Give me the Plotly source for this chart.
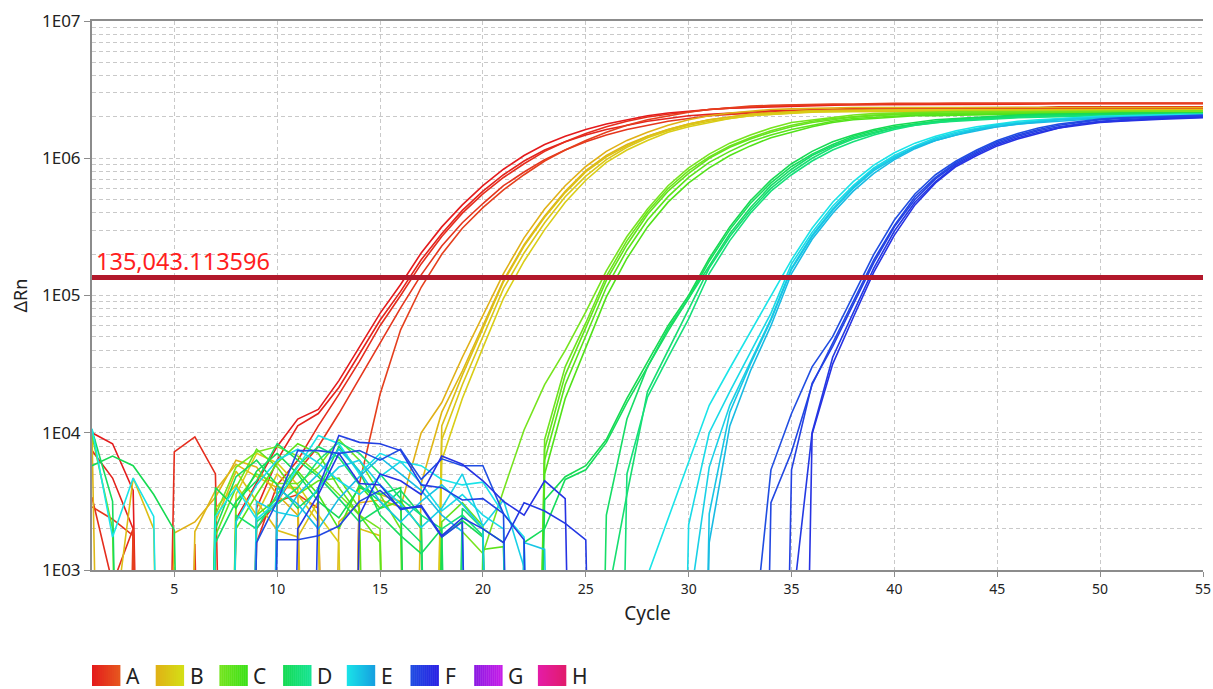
import math
import plotly.graph_objects as go

N = None  # reading at or below zero: off the bottom of the log axis

CYCLES = list(range(1, 56))
THRESHOLD = 135043.113596
THRESHOLD_LABEL = "135,043.113596"
X_TICK_VALUES = [5, 10, 15, 20, 25, 30, 35, 40, 45, 50, 55]
Y_TICK_VALUES = [1e3, 1e4, 1e5, 1e6, 1e7]
Y_TICK_LABELS = ["1E03", "1E04", "1E05", "1E06", "1E07"]
GROUPS = ["A", "B", "C", "D", "E", "F", "G", "H"]

# log10(delta Rn) per well, cycles 1..55
A1 = [4.00, 3.92, 3.58, N, N, N, N, 3.37, 3.64, 3.90,
      4.10, 4.17, 4.38, 4.62, 4.87, 5.08, 5.31, 5.50, 5.66, 5.80,
      5.92, 6.02, 6.10, 6.16, 6.21, 6.25, 6.28, 6.31, 6.33, 6.345,
      6.355, 6.365, 6.37, 6.375, 6.38, 6.385, 6.385, 6.39, 6.39, 6.39,
      6.39, 6.39, 6.395, 6.395, 6.395, 6.395, 6.395, 6.40, 6.40, 6.40,
      6.40, 6.40, 6.40, 6.40, 6.40]
A2 = [3.87, 3.67, 3.30, N, N, N, N, N, 3.45, 3.80,
      4.05, 4.14, 4.33, 4.57, 4.82, 5.03, 5.26, 5.45, 5.62, 5.76,
      5.88, 5.98, 6.06, 6.12, 6.17, 6.21, 6.24, 6.27, 6.29, 6.31,
      6.32, 6.33, 6.34, 6.345, 6.35, 6.355, 6.36, 6.36, 6.365, 6.365,
      6.365, 6.37, 6.37, 6.37, 6.37, 6.37, 6.37, 6.375, 6.375, 6.375,
      6.375, 6.375, 6.375, 6.375, 6.375]
A3 = [3.53, 2.90, 3.30, N, 3.86, 3.97, 3.70, N, 3.20, 3.62,
      3.80, 4.05, 4.28, 4.52, 4.78, 5.00, 5.23, 5.43, 5.60, 5.74,
      5.86, 5.96, 6.05, 6.12, 6.18, 6.23, 6.27, 6.30, 6.32, 6.34,
      6.355, 6.365, 6.375, 6.38, 6.385, 6.39, 6.39, 6.39, 6.395, 6.395,
      6.395, 6.40, 6.40, 6.40, 6.40, 6.40, 6.40, 6.40, 6.40, 6.40,
      6.40, 6.40, 6.40, 6.40, 6.40]
A4 = [3.46, 3.37, 3.25, N, N, 3.19, N, N, 3.30, 3.50,
      3.72, 3.90, 4.14, 4.40, 4.66, 4.91, 5.15, 5.36, 5.53, 5.67,
      5.80, 5.90, 5.99, 6.06, 6.12, 6.17, 6.21, 6.24, 6.27, 6.29,
      6.31, 6.32, 6.33, 6.34, 6.345, 6.35, 6.355, 6.36, 6.36, 6.36,
      6.365, 6.365, 6.365, 6.365, 6.365, 6.365, 6.365, 6.365, 6.365, 6.365,
      6.365, 6.365, 6.365, 6.365, 6.365]
A5 = [N, N, 3.30, N, N, N, N, N, N, 3.50,
      3.55, 3.45, N, 3.63, 4.28, 4.75, 5.06, 5.30, 5.49, 5.64,
      5.77, 5.88, 5.98, 6.06, 6.13, 6.19, 6.24, 6.28, 6.31, 6.335,
      6.355, 6.37, 6.38, 6.385, 6.39, 6.39, 6.395, 6.395, 6.40, 6.40,
      6.40, 6.40, 6.40, 6.40, 6.40, 6.40, 6.40, 6.40, 6.40, 6.40,
      6.40, 6.40, 6.40, 6.40, 6.40]

B1 = [N, N, N, N, 3.27, 3.35, 3.53, 3.80, 3.75, 3.55,
      3.40, N, 3.35, 3.49, 3.51, 3.46, 4.00, 4.22, 4.55, 4.86,
      5.16, 5.42, 5.63, 5.80, 5.94, 6.05, 6.13, 6.19, 6.24, 6.28,
      6.31, 6.33, 6.345, 6.355, 6.36, 6.365, 6.365, 6.37, 6.37, 6.37,
      6.37, 6.37, 6.37, 6.37, 6.37, 6.37, 6.37, 6.37, 6.37, 6.37,
      6.37, 6.37, 6.37, 6.37, 6.37]
B2 = [4.00, N, N, N, N, 3.28, 3.58, 3.77, 3.68, 3.60,
      3.60, N, N, N, N, N, 3.63, 4.15, 4.45, 4.78,
      5.11, 5.37, 5.58, 5.76, 5.91, 6.02, 6.10, 6.16, 6.21, 6.25,
      6.28, 6.30, 6.32, 6.33, 6.34, 6.345, 6.35, 6.35, 6.355, 6.355,
      6.355, 6.355, 6.355, 6.355, 6.355, 6.355, 6.355, 6.355, 6.355, 6.355,
      6.355, 6.355, 6.355, 6.355, 6.355]
B3 = [N, 2.50, 3.67, 3.30, N, N, 3.35, 3.72, 3.50, 3.29,
      3.24, 3.50, N, 3.30, 3.25, N, N, 4.05, 4.42, 4.76,
      5.10, 5.36, 5.57, 5.75, 5.90, 6.01, 6.09, 6.16, 6.21, 6.25,
      6.28, 6.30, 6.32, 6.33, 6.34, 6.345, 6.345, 6.35, 6.35, 6.35,
      6.35, 6.35, 6.35, 6.35, 6.35, 6.35, 6.35, 6.35, 6.35, 6.35,
      6.35, 6.35, 6.35, 6.35, 6.35]
B4 = [N, N, N, N, N, N, 3.45, 3.62, 3.40, 3.70,
      3.55, 3.35, N, 3.60, 3.55, 3.50, N, 3.95, 4.35, 4.70,
      5.05, 5.31, 5.53, 5.72, 5.87, 5.99, 6.08, 6.15, 6.20, 6.24,
      6.27, 6.29, 6.31, 6.32, 6.33, 6.335, 6.34, 6.34, 6.345, 6.345,
      6.345, 6.345, 6.345, 6.345, 6.345, 6.345, 6.345, 6.345, 6.345, 6.345,
      6.345, 6.345, 6.345, 6.345, 6.345]
B5 = [N, N, N, N, N, N, N, 3.55, 3.85, 3.78,
      3.62, 3.40, 3.20, N, N, N, N, 3.80, 4.25, 4.62,
      4.98, 5.25, 5.48, 5.68, 5.84, 5.97, 6.06, 6.13, 6.19, 6.23,
      6.26, 6.29, 6.31, 6.32, 6.33, 6.34, 6.34, 6.345, 6.345, 6.35,
      6.35, 6.35, 6.35, 6.35, 6.35, 6.35, 6.35, 6.35, 6.35, 6.35,
      6.35, 6.35, 6.35, 6.35, 6.35]

C1 = [N, N, N, N, N, N, 3.40, 3.75, 3.86, 3.90,
      3.83, 3.70, 3.55, 3.40, 3.30, N, N, N, 3.28, 3.12,
      3.58, 4.02, 4.35, 4.60, 4.88, 5.18, 5.43, 5.63, 5.80, 5.93,
      6.03, 6.11, 6.17, 6.22, 6.26, 6.28, 6.30, 6.315, 6.325, 6.33,
      6.335, 6.335, 6.34, 6.34, 6.34, 6.34, 6.345, 6.345, 6.345, 6.345,
      6.345, 6.345, 6.345, 6.345, 6.345]
C2 = [3.98, 3.30, N, N, N, N, N, 3.50, 3.70, 3.63,
      3.63, 3.75, 3.95, 3.80, 3.55, 3.30, N, N, N, N,
      N, N, 3.95, 4.48, 4.80, 5.14, 5.40, 5.61, 5.78, 5.91,
      6.01, 6.09, 6.15, 6.20, 6.24, 6.27, 6.29, 6.305, 6.315, 6.32,
      6.325, 6.325, 6.33, 6.33, 6.33, 6.335, 6.335, 6.335, 6.335, 6.335,
      6.335, 6.335, 6.335, 6.335, 6.335]
C3 = [N, N, N, N, N, N, 3.25, 3.60, 3.88, 3.75,
      3.55, 3.65, 3.67, 3.45, N, N, N, 3.35, 3.49, 3.32,
      N, N, 3.88, 4.42, 4.76, 5.11, 5.37, 5.59, 5.76, 5.89,
      6.00, 6.08, 6.14, 6.19, 6.23, 6.26, 6.28, 6.30, 6.31, 6.32,
      6.325, 6.325, 6.33, 6.33, 6.33, 6.33, 6.33, 6.33, 6.33, 6.33,
      6.33, 6.33, 6.33, 6.33, 6.33]
C4 = [N, N, N, N, N, N, N, 3.30, 3.55, 3.78,
      3.92, 3.85, 3.60, 3.40, 3.20, N, N, N, N, 3.15,
      3.17, N, 3.80, 4.35, 4.70, 5.06, 5.33, 5.55, 5.72, 5.86,
      5.97, 6.05, 6.12, 6.17, 6.21, 6.24, 6.27, 6.29, 6.30, 6.31,
      6.315, 6.32, 6.32, 6.32, 6.325, 6.325, 6.325, 6.325, 6.325, 6.325,
      6.325, 6.325, 6.325, 6.325, 6.325]
C5 = [N, N, N, N, N, N, N, N, 3.40, 3.52,
      3.72, 3.55, 3.30, 3.62, 3.45, 3.50, 3.30, N, N, N,
      N, N, 3.70, 4.25, 4.62, 4.99, 5.27, 5.50, 5.68, 5.82,
      5.93, 6.02, 6.09, 6.15, 6.19, 6.23, 6.26, 6.28, 6.29, 6.30,
      6.31, 6.31, 6.315, 6.315, 6.32, 6.32, 6.32, 6.32, 6.32, 6.32,
      6.32, 6.32, 6.32, 6.32, 6.32]

D1 = [3.76, 3.83, 3.76, 3.55, 3.29, N, 3.60, 3.45, 3.72, 3.85,
      3.70, 3.50, 3.38, 3.60, 3.55, 3.60, N, 3.24, 3.36, 3.24,
      N, N, 3.51, 3.68, 3.76, 3.95, 4.25, 4.52, 4.78, 5.00,
      5.27, 5.50, 5.69, 5.84, 5.96, 6.05, 6.12, 6.17, 6.21, 6.24,
      6.26, 6.28, 6.29, 6.30, 6.31, 6.315, 6.32, 6.32, 6.325, 6.325,
      6.33, 6.33, 6.33, 6.33, 6.33]
D2 = [4.02, 3.50, N, N, N, N, 3.30, 3.68, 3.80, 3.62,
      3.45, 3.58, 3.90, 3.72, 3.40, 3.25, 3.12, 3.30, N, N,
      N, 3.20, 3.30, 3.66, 3.73, 3.93, 4.22, 4.48, 4.74, 4.98,
      5.25, 5.48, 5.67, 5.82, 5.94, 6.03, 6.10, 6.16, 6.20, 6.23,
      6.25, 6.27, 6.285, 6.295, 6.305, 6.31, 6.315, 6.32, 6.32, 6.32,
      6.325, 6.325, 6.325, 6.325, 6.325]
D3 = [N, N, N, N, N, N, 3.20, 3.50, 3.65, 3.92,
      3.80, 3.68, 3.52, 3.35, 3.45, 3.58, 3.40, N, N, N,
      N, N, N, N, N, 3.40, 4.10, 4.48, 4.76, 4.98,
      5.22, 5.45, 5.64, 5.80, 5.92, 6.02, 6.09, 6.15, 6.19, 6.22,
      6.25, 6.27, 6.28, 6.29, 6.30, 6.305, 6.31, 6.31, 6.315, 6.315,
      6.315, 6.32, 6.32, 6.32, 6.32]
D4 = [N, N, N, N, N, N, N, 3.40, 3.30, 3.55,
      3.76, 3.90, 3.82, 3.62, 3.50, 3.35, 3.20, N, 3.45, 3.30,
      3.20, N, N, N, N, 2.75, 3.55, 4.30, 4.60, 4.90,
      5.20, 5.43, 5.62, 5.78, 5.90, 6.00, 6.08, 6.14, 6.18, 6.22,
      6.24, 6.26, 6.275, 6.285, 6.295, 6.30, 6.305, 6.31, 6.31, 6.31,
      6.315, 6.315, 6.315, 6.315, 6.315]
D5 = [N, N, N, N, N, N, N, N, 3.35, 3.48,
      3.60, 3.80, 3.93, 3.85, 3.70, 3.52, 3.40, 3.30, 3.40, 3.25,
      N, N, N, N, N, N, 3.70, 4.26, 4.55, 4.83,
      5.16, 5.40, 5.60, 5.76, 5.88, 5.98, 6.06, 6.12, 6.17, 6.21,
      6.24, 6.26, 6.27, 6.28, 6.29, 6.295, 6.30, 6.305, 6.31, 6.31,
      6.31, 6.31, 6.31, 6.31, 6.31]

E1 = [4.03, 3.24, 3.67, 3.39, N, N, 3.39, 3.60, 3.37, 3.50,
      3.75, 3.98, 3.92, 3.70, 3.85, 3.79, 3.76, 3.66, 3.62, 3.64,
      3.41, 3.24, N, N, N, N, N, 2.96, 3.37, 3.78,
      4.20, 4.47, 4.73, 5.00, 5.26, 5.49, 5.68, 5.83, 5.95, 6.04,
      6.11, 6.16, 6.20, 6.23, 6.25, 6.27, 6.28, 6.29, 6.30, 6.305,
      6.31, 6.315, 6.315, 6.32, 6.32]
E2 = [N, N, N, N, N, N, N, 3.35, 3.62, 3.80,
      3.88, 3.78, 3.65, 3.55, 3.68, 3.79, 3.63, 3.43, 3.55, 3.40,
      3.30, N, N, N, N, N, N, N, N, 3.33,
      4.00, 4.30, 4.58, 4.87, 5.23, 5.46, 5.65, 5.80, 5.93, 6.02,
      6.09, 6.15, 6.19, 6.22, 6.245, 6.26, 6.275, 6.285, 6.295, 6.30,
      6.305, 6.305, 6.31, 6.31, 6.31]
E3 = [N, N, N, N, N, N, N, N, 3.50, 3.42,
      3.39, 3.60, 3.75, 3.80, 3.62, 3.48, 3.31, 3.45, 3.70, 3.32,
      3.51, 3.02, N, N, N, N, N, N, N, 2.70,
      3.75, 4.20, 4.52, 4.83, 5.20, 5.44, 5.63, 5.79, 5.92, 6.01,
      6.08, 6.14, 6.18, 6.21, 6.24, 6.255, 6.27, 6.28, 6.29, 6.30,
      6.30, 6.305, 6.305, 6.31, 6.31]
E4 = [N, N, N, N, N, N, N, N, N, 3.30,
      3.55, 3.70, 3.88, 3.72, 3.50, 3.35, 3.50, 3.62, 3.48, 3.30,
      N, 3.20, 3.15, N, N, N, N, N, N, N,
      3.41, 4.15, 4.50, 4.82, 5.19, 5.43, 5.62, 5.78, 5.91, 6.00,
      6.08, 6.13, 6.17, 6.21, 6.23, 6.25, 6.265, 6.28, 6.29, 6.295,
      6.30, 6.30, 6.305, 6.305, 6.31]
E5 = [N, N, N, N, N, N, N, N, N, 3.60,
      3.48, 3.30, 3.52, 3.68, 3.82, 3.70, 3.58, 3.40, 3.28, N,
      N, N, N, N, N, N, N, N, N, N,
      3.20, 4.05, 4.45, 4.78, 5.16, 5.41, 5.60, 5.76, 5.89, 5.99,
      6.07, 6.13, 6.17, 6.20, 6.23, 6.25, 6.26, 6.275, 6.285, 6.29,
      6.295, 6.30, 6.30, 6.305, 6.305]

F1 = [N, N, N, N, N, N, N, N, 3.20, 3.50,
      3.87, 3.87, 3.85, 3.87, 3.80, 3.88, 3.66, 3.81, 3.76, 3.76,
      3.41, N, N, N, N, N, N, N, N, N,
      N, N, 2.27, 3.73, 4.14, 4.48, 4.70, 5.00, 5.30, 5.55,
      5.74, 5.88, 5.98, 6.06, 6.13, 6.18, 6.22, 6.25, 6.27, 6.285,
      6.295, 6.30, 6.305, 6.31, 6.315]
F2 = [N, N, N, N, N, N, N, N, N, 3.22,
      3.22, 3.25, 3.32, 3.50, 3.58, 3.45, 3.46, 3.24, 3.35, N,
      N, N, N, N, N, N, N, N, N, N,
      N, N, N, 3.49, 3.86, 4.35, 4.65, 4.95, 5.26, 5.51,
      5.72, 5.86, 5.97, 6.05, 6.12, 6.17, 6.21, 6.24, 6.26, 6.28,
      6.29, 6.295, 6.30, 6.305, 6.31]
F3 = [N, N, N, N, N, N, N, N, N, N,
      N, 3.60, 3.98, 3.93, 3.92, 3.87, 3.62, 3.60, 3.51, 3.52,
      3.41, 3.22, N, N, N, N, N, N, N, N,
      N, N, N, N, 3.73, 4.36, 4.63, 4.93, 5.24, 5.50,
      5.70, 5.85, 5.96, 6.04, 6.11, 6.16, 6.20, 6.23, 6.25, 6.27,
      6.28, 6.29, 6.295, 6.30, 6.305]
F4 = [N, N, N, N, N, N, N, N, N, N,
      3.30, 3.55, 3.85, 3.63, 3.62, 3.44, 3.47, 3.25, 3.38, 3.30,
      3.20, 3.49, 3.43, 3.34, 3.22, N, N, N, N, N,
      N, N, N, N, 2.67, 4.00, 4.55, 4.88, 5.20, 5.47,
      5.68, 5.83, 5.95, 6.03, 6.10, 6.15, 6.19, 6.22, 6.25, 6.265,
      6.275, 6.285, 6.29, 6.295, 6.30]
F5 = [N, N, N, N, N, N, N, N, N, N,
      N, N, N, 3.40, 3.70, 3.65, 3.55, 3.83, 3.77, 3.65,
      3.50, 3.40, 3.65, 3.52, N, N, N, N, N, N,
      N, N, N, N, N, 3.99, 4.50, 4.84, 5.17, 5.44,
      5.66, 5.82, 5.94, 6.02, 6.09, 6.14, 6.18, 6.22, 6.24, 6.26,
      6.27, 6.28, 6.285, 6.29, 6.295]

WELLS = {
    "A": [A1, A2, A3, A4, A5],
    "B": [B1, B2, B3, B4, B5],
    "C": [C1, C2, C3, C4, C5],
    "D": [D1, D2, D3, D4, D5],
    "E": [E1, E2, E3, E4, E5],
    "F": [F1, F2, F3, F4, F5],
    "G": [],
    "H": [],
}

# ---- styling ----
GROUP_COLORS = {  # legend gradient endpoints (left, right)
    "A": ((228, 26, 28), (230, 88, 30)),
    "B": ((224, 176, 22), (212, 224, 22)),
    "C": ((118, 228, 30), (58, 225, 22)),
    "D": ((22, 218, 82), (22, 228, 148)),
    "E": ((26, 228, 232), (22, 160, 224)),
    "F": ((32, 78, 226), (42, 32, 228)),
    "G": ((138, 26, 226), (200, 30, 232)),
    "H": ((228, 28, 168), (226, 28, 108)),
}
BELOW_AXIS = 1e-4  # where non-positive readings are drawn (below the axis floor)
FONT = "Noto Sans"
TEXT = "#222222"
AXIS = "#8c8c8c"
GRID = "#c9c9c9"
DASH = "4px,3px"

PLOT_L, PLOT_R, PLOT_T, PLOT_B = 92, 1203, 21, 570
W, H = 1213, 689


def mix(c1, c2, t):
    return "rgb(%d,%d,%d)" % tuple(round(a + (b - a) * t) for a, b in zip(c1, c2))


fig = go.Figure()

for g in GROUPS:
    wells = WELLS[g]
    c_left, c_right = GROUP_COLORS[g]
    for i, w in enumerate(wells):
        if len(w) != len(CYCLES):
            raise ValueError(f"{g}{i+1} has {len(w)} values")
        t = 0.6 * i / max(1, len(wells) - 1)
        y = [10 ** v if v is not None else BELOW_AXIS for v in w]
        fig.add_trace(go.Scatter(
            x=CYCLES, y=y, mode="lines", name=f"{g}{i+1}",
            line=dict(color=mix(c_left, c_right, t), width=1.6),
            showlegend=False, hoverinfo="skip"))

# threshold line
fig.add_trace(go.Scatter(
    x=[CYCLES[0], CYCLES[-1]], y=[THRESHOLD, THRESHOLD], mode="lines",
    line=dict(color="#b2182b", width=5), showlegend=False, hoverinfo="skip"))

fig.add_annotation(
    x=0, xref="paper", y=math.log10(THRESHOLD), yref="y",
    text=THRESHOLD_LABEL, showarrow=False, xanchor="left", yanchor="bottom",
    xshift=2, yshift=-1, font=dict(family=FONT, size=23.5, color="#ff1e1e"))

# legend: gradient squares + labels below the plot
pw, ph = PLOT_R - PLOT_L, PLOT_B - PLOT_T


def px_x(px):
    return (px - PLOT_L) / pw


def px_y(py):
    return (PLOT_B - py) / ph


shapes = []
SQ_W, SQ_TOP, SQ_BOT, STEP, STRIPS = 28, 665, 686, 63.7, 14
for k, g in enumerate(GROUPS):
    x0 = 92 + STEP * k
    c_left, c_right = GROUP_COLORS[g]
    for s in range(STRIPS):
        xa = x0 + SQ_W * s / STRIPS
        xb = x0 + SQ_W * (s + 1) / STRIPS + 0.4
        col = mix(c_left, c_right, (s + 0.5) / STRIPS)
        shapes.append(dict(type="rect", xref="paper", yref="paper",
                           x0=px_x(xa), x1=px_x(xb), y0=px_y(SQ_BOT), y1=px_y(SQ_TOP),
                           fillcolor=col, line=dict(width=0), layer="above"))
    fig.add_annotation(x=px_x(x0 + SQ_W + 4), xref="paper", y=px_y((SQ_TOP + SQ_BOT) / 2),
                       yref="paper", text=g, showarrow=False, xanchor="left",
                       yanchor="middle", font=dict(family=FONT, size=21, color=TEXT))

minor_vals = [m * 10 ** d for d in range(3, 7) for m in range(2, 10)]

fig.update_layout(
    width=W, height=H,
    margin=dict(l=PLOT_L, r=W - PLOT_R, t=PLOT_T, b=H - PLOT_B, autoexpand=False),
    paper_bgcolor="white", plot_bgcolor="white",
    font=dict(family=FONT, color=TEXT),
    shapes=shapes,
    xaxis=dict(
        range=[1, 55], tickvals=X_TICK_VALUES, ticks="outside", ticklen=5,
        tickcolor=AXIS, showline=True, linecolor=AXIS, linewidth=2, mirror=True,
        showgrid=True, gridcolor=GRID, griddash=DASH, gridwidth=1, zeroline=False,
        automargin=False,
        tickfont=dict(family=FONT, size=14, color=TEXT),
        title=dict(text="Cycle", font=dict(family=FONT, size=19, color=TEXT), standoff=10),
    ),
    yaxis=dict(
        type="log", range=[3, 7], tickvals=Y_TICK_VALUES, ticktext=Y_TICK_LABELS,
        ticks="outside", ticklen=6, tickcolor=AXIS, showline=True, linecolor=AXIS,
        linewidth=2, showgrid=True, gridcolor=GRID, griddash=DASH, gridwidth=1,
        zeroline=False, automargin=False,
        tickfont=dict(family=FONT, size=17, color=TEXT),
        title=dict(text="ΔRn", font=dict(family=FONT, size=18, color=TEXT), standoff=10),
        minor=dict(tickvals=minor_vals, showgrid=True, gridcolor=GRID, griddash=DASH,
                   gridwidth=1, ticks=""),
    ),
)

fig.write_html("out.html")
